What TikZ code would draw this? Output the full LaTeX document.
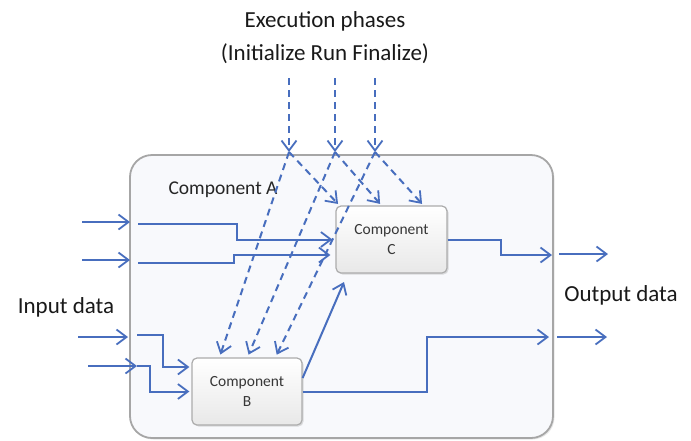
\documentclass[tikz,border=0pt]{standalone}
\usepackage{fontspec}
\setmainfont{Carlito}
\usetikzlibrary{arrows.meta,shadows}
\definecolor{flowblue}{RGB}{72,110,190}
\definecolor{boxfill}{RGB}{248,249,252}
\definecolor{txtgray}{RGB}{55,55,55}
\tikzset{
  flow/.style={draw=flowblue, line width=2pt, -{Straight Barb[length=10pt,width=15pt,line width=1.8pt]}},
  phase/.style={flow, dash pattern=on 7pt off 5pt},
  mainbox/.style={draw=gray!70, line width=1.8pt, fill=boxfill, rounded corners=22pt,
    drop shadow={opacity=0.2, shadow xshift=1.5pt, shadow yshift=-1.5pt}},
  compbox/.style={draw=gray!65, line width=1.2pt, rounded corners=5pt, top color=white, bottom color=gray!18,
    align=center, font=\fontsize{15.5}{20}\selectfont, text=txtgray,
    drop shadow={opacity=0.25, shadow xshift=1.5pt, shadow yshift=-1.5pt}},
  bigtxt/.style={font=\fontsize{23}{33}\selectfont, align=center, text=black!90},
}
\begin{document}
\begin{tikzpicture}[x=1pt,y=-1pt]
\useasboundingbox (0,0) rectangle (691,440);
% main box
\node[mainbox, minimum width=423pt, minimum height=283pt, inner sep=0pt] (A) at (341.5,296.5) {};
\node[anchor=west, font=\fontsize{19.5}{22}\selectfont, text=black!85] (Alabel) at (165,190) {Component A};
% components
\node[compbox, minimum width=111pt, minimum height=67pt, inner sep=0pt] (C) at (391.5,239.5) {Component\\C};
\node[compbox, minimum width=110pt, minimum height=67pt, inner sep=0pt] (B) at (247,391.5) {Component\\B};
% texts
\node[bigtxt] (title) at (325,38) {Execution phases\\(Initialize Run Finalize)};
\node[bigtxt] (inlab) at (66,307) {Input data};
\node[bigtxt] (outlab) at (621,295) {Output data};
% coordinates
\coordinate (i1) at (82,222);   \coordinate (i1e) at (130,222);  \coordinate (i1s) at (138,224);
\coordinate (i2) at (82,260);   \coordinate (i2e) at (130,260);  \coordinate (i2s) at (138,263);
\coordinate (i3) at (78,337);   \coordinate (i3e) at (128,337);  \coordinate (i3s) at (137,335);
\coordinate (i4) at (88,366);   \coordinate (i4e) at (137,366);
\coordinate (o1) at (552,255);  \coordinate (o1s) at (559,254);  \coordinate (o1e) at (608,254);
\coordinate (o2) at (549,337);  \coordinate (o2s) at (557,337);  \coordinate (o2e) at (607,337);
\coordinate (diagEnd) at (344,282);
\coordinate (p1) at (289,78);  \coordinate (q1) at (289,152);
\coordinate (p2) at (335,78);  \coordinate (q2) at (335,152);
\coordinate (p3) at (375,78);  \coordinate (q3) at (375,152);
% inputs
\draw[flow] (i1) -- (i1e);
\draw[flow] (i2) -- (i2e);
\draw[flow] (i3) -- (i3e);
\draw[flow] (i4) -- (i4e);
\draw[flow, shorten >=3pt] (i1s) -- ++(99,0) |- (C.west);
\draw[flow, shorten >=5pt] (i2s) -- ++(96,0) |- ([yshift=-15.5pt]C.west);
\draw[flow, shorten >=2pt] (i3s) -- ++(26,0) |- ([yshift=24.5pt]B.west);
\draw[flow, shorten >=2pt] (i4e) -- ++(13,0) |- (B.west);
% outputs
\draw[flow] (C.east) -- ++(53,0) |- (o1);
\draw[flow] (o1s) -- (o1e);
\draw[flow] (B.east) -- ++(124,0) |- (o2);
\draw[flow] (o2s) -- (o2e);
\draw[flow] ([yshift=13.5pt]B.east) -- (diagEnd);
% phases
\draw[phase] (p1) -- (q1);
\draw[phase] (p2) -- (q2);
\draw[phase] (p3) -- (q3);
\draw[phase, shorten >=2pt] (q1) -- ([xshift=4pt]C.north west);
\draw[phase, shorten >=2pt] (q2) -- ([xshift=46pt]C.north west);
\draw[phase, shorten >=2pt] (q3) -- ([xshift=88pt]C.north west);
\draw[phase, shorten >=3pt] (q1) -- ([xshift=28pt]B.north west);
\draw[phase, shorten >=3pt] (q2) -- ([xshift=56pt]B.north west);
\draw[phase, shorten >=3pt] (q3) -- ([xshift=84pt]B.north west);
\end{tikzpicture}
\end{document}
